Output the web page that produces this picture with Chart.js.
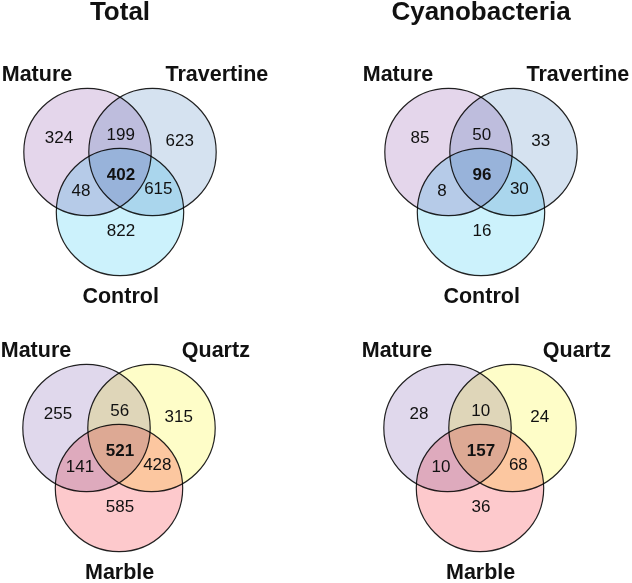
<!DOCTYPE html>
<html>
<head>
<meta charset="utf-8">
<script src="https://cdn.jsdelivr.net/npm/chart.js@4"></script>
<style>
    html, body { margin: 0; padding: 0; background: #fff; }
    body { position: relative; width: 632px; height: 583px; overflow: hidden; }
    .panel { position: absolute; width: 300px; height: 307px; }
</style>
</head>
<body>
<div class="panel" style="left:-30.5px; top:0px;"><canvas id="venn_tl"></canvas></div>
<div class="panel" style="left:330.75px; top:0px;"><canvas id="venn_tr"></canvas></div>
<div class="panel" style="left:-31.5px; top:276px;"><canvas id="venn_bl"></canvas></div>
<div class="panel" style="left:329.75px; top:276px;"><canvas id="venn_br"></canvas></div>
<script>
// set names
const setsTravertine = ['Mature', 'Travertine', 'Control'];
const setsQuartz = ['Mature', 'Quartz', 'Marble'];
const panelTitles = ['Total', 'Cyanobacteria'];

// region counts: A only, A&B, B only, A&B&C, A&C, B&C, C only
const totalTravertine = [324, 199, 623, 402, 48, 615, 822];
const cyanoTravertine = [85, 50, 33, 96, 8, 30, 16];
const totalQuartz = [255, 56, 315, 521, 141, 428, 585];
const cyanoQuartz = [28, 10, 24, 157, 10, 68, 36];

const colorsTravertine = ['#e4d6eb', '#d5e2f0', '#ccf2fc'];
const colorsQuartz = ['#e0d8ec', '#fefdc8', '#fdc9cc'];

// venn layout in diagram units
const circleCenters = [{x: -0.5, y: 0}, {x: 0.5, y: 0}, {x: 0, y: -0.923}];
const circleR = 0.98;
const regionPos = [[-0.94, 0.215], [0.01, 0.254], [0.92, 0.16], [0.015, -0.354], [-0.6, -0.6], [0.59, -0.57], [0.015, -1.215]];
const namePos = [[-1.277, 1.19], [1.49, 1.19], [0.01, -2.23]];
const titleY = 2.14;

const FONT = 'Arial, "Liberation Sans", sans-serif';

const multiplyPlugin = {
    id: 'multiply',
    beforeDatasetsDraw(chart) {
        chart.ctx.save();
        chart.ctx.globalCompositeOperation = 'multiply';
    },
    afterDatasetsDraw(chart) {
        chart.ctx.restore();
    }
};

const labelPlugin = {
    id: 'vennLabels',
    afterDraw(chart) {
        const o = chart.options.plugins.vennLabels;
        const ctx = chart.ctx;
        const sx = chart.scales.x, sy = chart.scales.y;
        ctx.save();
        ctx.fillStyle = '#111';
        ctx.textAlign = 'center';
        ctx.textBaseline = 'middle';
        o.counts.forEach((v, i) => {
            ctx.font = (i === 3 ? 'bold ' : '') + '17px ' + FONT;
            ctx.fillText(String(v), sx.getPixelForValue(regionPos[i][0]), sy.getPixelForValue(regionPos[i][1]));
        });
        ctx.font = 'bold 21.5px ' + FONT;
        o.names.forEach((n, i) => {
            ctx.fillText(n, sx.getPixelForValue(namePos[i][0]), sy.getPixelForValue(namePos[i][1]));
        });
        if (o.title) {
            ctx.font = 'bold 26px ' + FONT;
            ctx.fillText(o.title, sx.getPixelForValue(0), sy.getPixelForValue(titleY));
        }
        ctx.restore();
    }
};

function createVenn(id, names, counts, colors, title) {
    const ctx = document.getElementById(id);
    return new Chart(ctx, {
        type: 'scatter',
        data: {
            datasets: [{
                data: circleCenters.map(c => ({x: c.x, y: c.y})),
                showLine: false,
                pointBackgroundColor: colors,
                pointBorderColor: '#222222',
                pointBorderWidth: 1.2,
                pointRadius: (c) => {
                    const s = c.chart.scales.x;
                    return s.getPixelForValue(circleR) - s.getPixelForValue(0);
                },
                clip: false,
            }]
        },
        options: {
            responsive: false,
            animation: false,
            events: [],
            layout: { padding: 0 },
            scales: {
                x: { type: 'linear', display: false, min: -2.3077, max: 2.3077 },
                y: { type: 'linear', display: false, min: -2.3846, max: 2.3385 }
            },
            plugins: {
                legend: { display: false },
                tooltip: { enabled: false },
                vennLabels: { names: names, counts: counts, title: title }
            }
        },
        plugins: [multiplyPlugin, labelPlugin]
    });
}

['venn_tl', 'venn_tr', 'venn_bl', 'venn_br'].forEach(id => {
    const c = document.getElementById(id);
    c.width = 300; c.height = 307;
    c.style.width = '300px'; c.style.height = '307px';
});

createVenn('venn_tl', setsTravertine, totalTravertine, colorsTravertine, panelTitles[0]);
createVenn('venn_tr', setsTravertine, cyanoTravertine, colorsTravertine, panelTitles[1]);
createVenn('venn_bl', setsQuartz, totalQuartz, colorsQuartz, null);
createVenn('venn_br', setsQuartz, cyanoQuartz, colorsQuartz, null);
</script>
</body>
</html>
